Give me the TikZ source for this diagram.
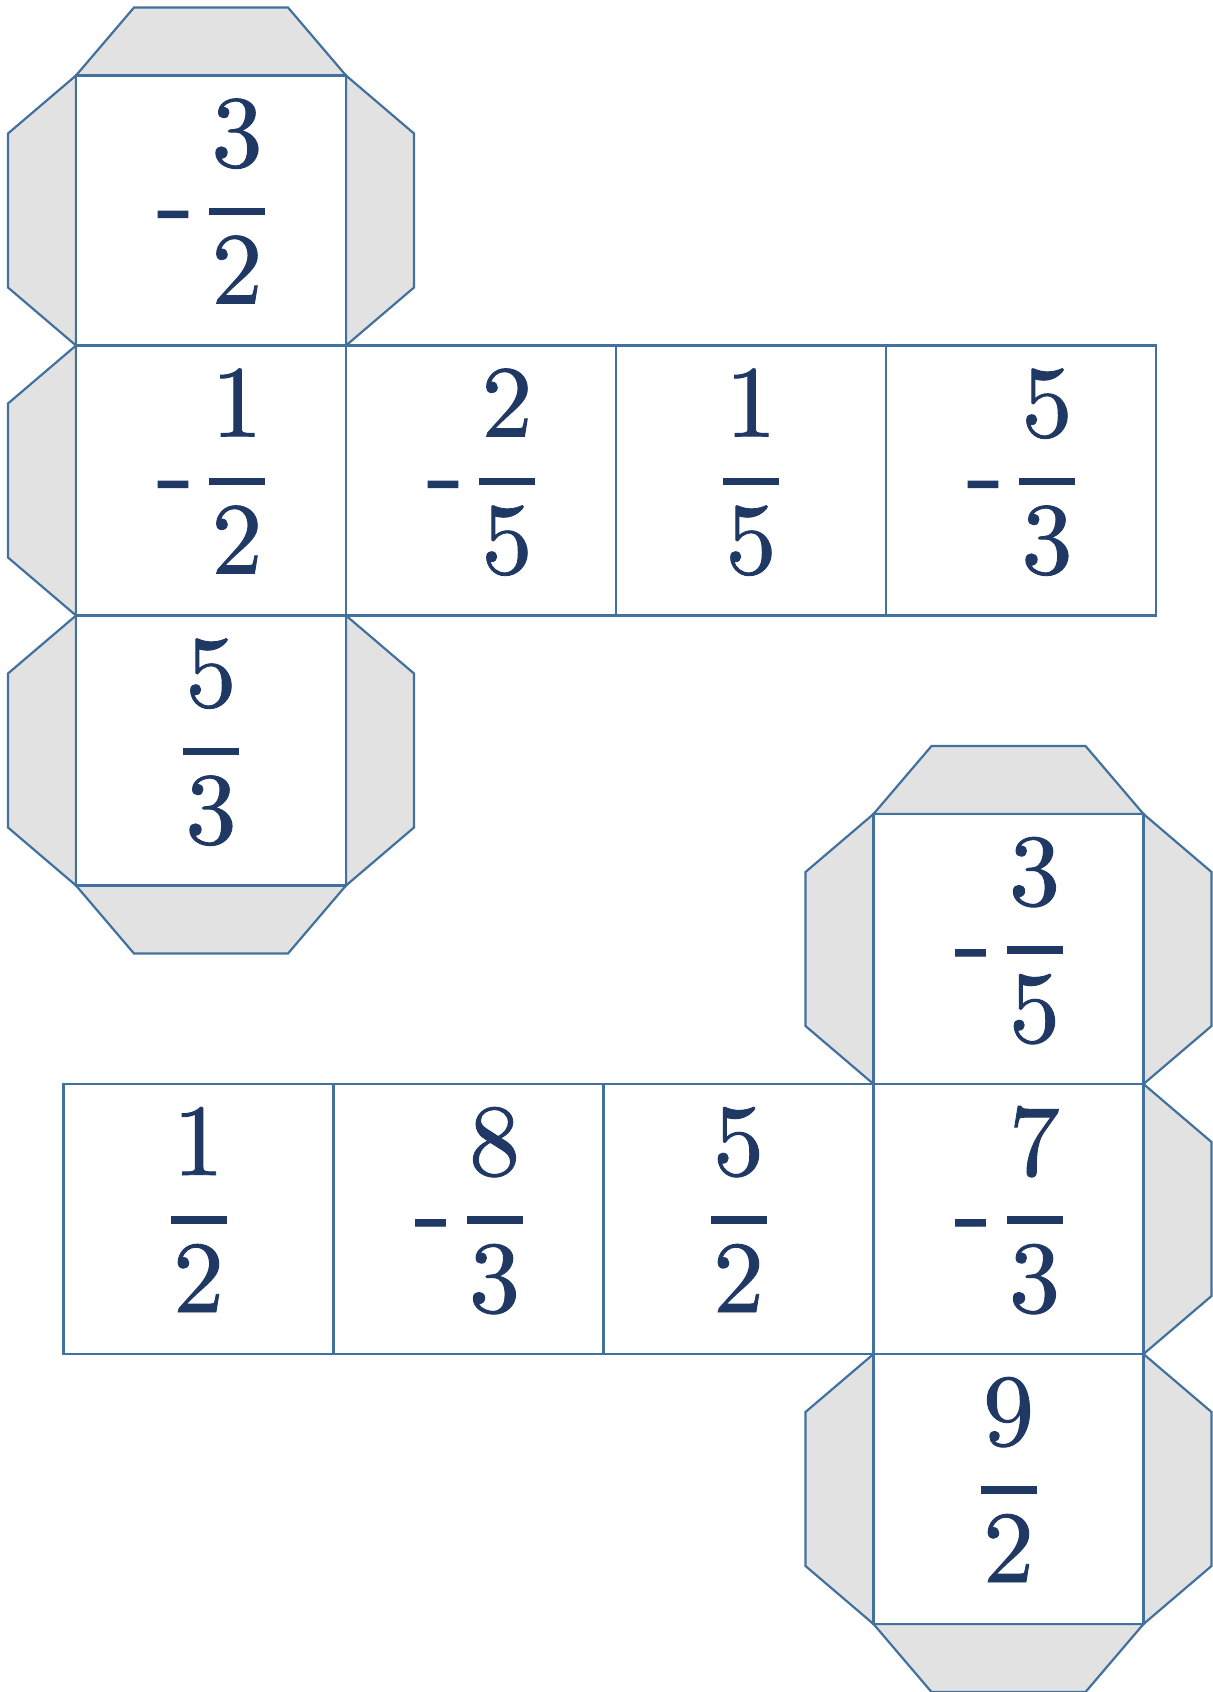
\documentclass[tikz,border=0pt]{standalone}
\usepackage{tikz}
\usepackage{fontspec}
\newfontfamily\digitfont{lmroman10-regular.otf}[FakeBold=0.9]
\definecolor{edge}{HTML}{41719C}
\definecolor{flapgray}{HTML}{E2E2E2}
\definecolor{txt}{HTML}{1F3864}
\tikzset{
  flap/.style={fill=flapgray, draw=edge, line width=1.1pt, line join=miter},
  sq/.style={draw=edge, fill=white, line width=1.1pt, minimum size=135pt, inner sep=0pt, outer sep=0pt},
  digit/.style={anchor=base, text=txt, inner sep=0pt, font=\digitfont\fontsize{51}{60}\selectfont},
  minus/.style={anchor=base, text=txt, inner sep=0pt, font=\digitfont\fontsize{56}{60}\selectfont},
  fracbar/.style={draw=txt, line width=3.75pt}
}
\newcommand\flapT[2]{\filldraw[flap] (#1,#2) -- (#1+58,#2-68) -- (#1+212,#2-68) -- (#1+270,#2) -- cycle;}
\newcommand\flapB[2]{\filldraw[flap] (#1,#2+270) -- (#1+58,#2+338) -- (#1+212,#2+338) -- (#1+270,#2+270) -- cycle;}
\newcommand\flapL[2]{\filldraw[flap] (#1,#2) -- (#1-68,#2+58) -- (#1-68,#2+212) -- (#1,#2+270) -- cycle;}
\newcommand\flapR[2]{\filldraw[flap] (#1+270,#2) -- (#1+338,#2+58) -- (#1+338,#2+212) -- (#1+270,#2+270) -- cycle;}
\newcommand\posfrac[5]{%
  \node[digit] (#1n) at (#2,#3-44) {#4};
  \node[digit] (#1d) at (#2,#3+93) {#5};
  \draw[fracbar] (#2-28,#3+1) -- (#2+28,#3+1);
}
\newcommand\negfrac[5]{%
  \posfrac{#1}{#2+26}{#3}{#4}{#5}
  \node[minus] (#1m) at (#2-35.5,#3+28) {-};
}
\begin{document}
\begin{tikzpicture}[x=0.5pt,y=-0.5pt]
\useasboundingbox (0,0) rectangle (1213,1692);
% ---------- net 1 flaps
\flapT{76}{75.5}\flapL{76}{75.5}\flapR{76}{75.5}
\flapL{76}{345.5}
\flapL{76}{615.5}\flapR{76}{615.5}\flapB{76}{615.5}
% ---------- net 2 flaps
\flapT{873.5}{814}\flapL{873.5}{814}\flapR{873.5}{814}
\flapR{873.5}{1084}
\flapL{873.5}{1354}\flapR{873.5}{1354}\flapB{873.5}{1354}
% ---------- net 1 squares
\node[sq] (a1) at (211,210.5) {};
\node[sq] (a2) at (211,480.5) {};
\node[sq] (a3) at (211,750.5) {};
\node[sq] (a4) at (481,480.5) {};
\node[sq] (a5) at (751,480.5) {};
\node[sq] (a6) at (1021,480.5) {};
% ---------- net 2 squares
\node[sq] (b1) at (198.5,1219) {};
\node[sq] (b2) at (468.5,1219) {};
\node[sq] (b3) at (738.5,1219) {};
\node[sq] (b4) at (1008.5,1219) {};
\node[sq] (b5) at (1008.5,949) {};
\node[sq] (b6) at (1008.5,1489) {};
% ---------- numbers net 1
\negfrac{ta1}{211}{210.5}{3}{2}
\negfrac{ta2}{211}{480.5}{1}{2}
\posfrac{ta3}{211}{750.5}{5}{3}
\negfrac{ta4}{481}{480.5}{2}{5}
\posfrac{ta5}{751}{480.5}{1}{5}
\negfrac{ta6}{1021}{480.5}{5}{3}
% ---------- numbers net 2
\posfrac{tb1}{198.5}{1219}{1}{2}
\negfrac{tb2}{468.5}{1219}{8}{3}
\posfrac{tb3}{738.5}{1219}{5}{2}
\negfrac{tb4}{1008.5}{1219}{7}{3}
\negfrac{tb5}{1008.5}{949}{3}{5}
\posfrac{tb6}{1008.5}{1489}{9}{2}
\end{tikzpicture}
\end{document}
